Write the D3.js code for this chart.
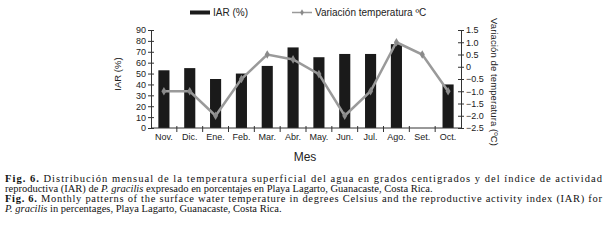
<!DOCTYPE html>
<html>
<head>
<meta charset="utf-8">
<script src="https://cdn.jsdelivr.net/npm/d3@7"></script>
<style>
	body { margin: 0; background: #fff; }
	svg { display: block; }
	.axis path, .axis line { stroke: #333; }
	.axis text { font-family: "Liberation Sans", sans-serif; font-size: 9px; fill: #222; }
</style>
</head>
<body>
<div id="chart"></div>
<script>
// data
const months = ["Nov.", "Dic.", "Ene.", "Feb.", "Mar.", "Abr.", "May.", "Jun.", "Jul.", "Ago.", "Set.", "Oct."]
const iar = [53, 55, 45, 50, 57, 74, 65, 68, 68, 77, null, 40]
const tempVar = [-1.0, -1.0, -2.0, -0.5, 0.5, 0.3, -0.3, -2.0, -1.0, 1.0, 0.5, -1.0]
const iarTicks = [0, 10, 20, 30, 40, 50, 60, 70, 80, 90]
const tempTicks = [1.5, 1.0, 0.5, 0, -0.5, -1.0, -1.5, -2.0, -2.5]

const rows = months.map((m, i) => ({ month: m, iar: iar[i], temp: tempVar[i] }))

const svgWidth = 613, svgHeight = 243
const plotL = 151, plotR = 461, plotT = 30, plotB = 128
const sans = "Liberation Sans, sans-serif"

let svg = d3.select("#chart").append("svg")
	.attr("width", svgWidth)
	.attr("height", svgHeight)

var x = d3.scaleBand()
	.domain(months)
	.range([plotL, plotR])

var y = d3.scaleLinear()
	.domain([0, 90])
	.range([plotB, plotT])

var y2 = d3.scaleLinear()
	.domain([-2.5, 1.5])
	.range([plotB, plotT])

// bars
const barW = x.bandwidth() * 0.43
svg.selectAll("rect.bar")
	.data(rows.filter(d => d.iar != null))
	.enter()
	.append("rect")
	.attr("class", "bar")
	.attr("fill", "#1a1a1a")
	.attr("x", d => x(d.month) + (x.bandwidth() - barW) / 2)
	.attr("y", d => y(d.iar))
	.attr("width", barW)
	.attr("height", d => plotB - y(d.iar))

// temperature line
svg.append("path")
	.datum(rows)
	.attr("fill", "none")
	.attr("stroke", "#9a9a9a")
	.attr("stroke-width", 2.5)
	.attr("d", d3.line()
		.x(d => x(d.month) + x.bandwidth() / 2)
		.y(d => y2(d.temp)))

svg.selectAll("path.mark")
	.data(rows)
	.enter()
	.append("path")
	.attr("class", "mark")
	.attr("fill", "#8a8a8a")
	.attr("d", d3.symbol(d3.symbolDiamond, 22))
	.attr("transform", d => "translate(" + (x(d.month) + x.bandwidth() / 2) + "," + y2(d.temp) + ")")

// axes
var yAxisCall = d3.axisLeft(y).tickValues(iarTicks).tickSizeOuter(0).tickSizeInner(3).tickPadding(2)
let gy = svg.append("g")
	.attr("class", "axis")
	.attr("transform", "translate(" + plotL + ",0)")
	.call(yAxisCall)
gy.selectAll(".tick line").attr("x1", 3)

var y2AxisCall = d3.axisRight(y2).tickValues(tempTicks)
	.tickFormat(d => d === 0 ? "0" : d3.format(".1f")(d))
	.tickSizeOuter(0).tickSizeInner(3).tickPadding(2)
let gy2 = svg.append("g")
	.attr("class", "axis")
	.attr("transform", "translate(" + plotR + ",0)")
	.call(y2AxisCall)
gy2.selectAll(".tick line").attr("x1", -3)

var xAxisCall = d3.axisBottom(x).tickSize(0).tickPadding(6)
let gx = svg.append("g")
	.attr("class", "axis")
	.attr("transform", "translate(0," + plotB + ")")
	.call(xAxisCall)
gx.select(".domain").attr("d", "M" + plotL + ",0H" + plotR)
// boundary ticks between months
gx.selectAll("line.sep")
	.data(months.slice(1))
	.enter()
	.append("line")
	.attr("class", "sep")
	.attr("x1", d => x(d)).attr("x2", d => x(d))
	.attr("y1", -2).attr("y2", 4)

// axis titles
svg.append("text")
	.attr("transform", "translate(121,74) rotate(-90)")
	.attr("text-anchor", "middle")
	.attr("font-family", sans)
	.attr("font-size", "9.5px")
	.attr("fill", "#222")
	.text("IAR (%)")

svg.append("text")
	.attr("transform", "translate(491,82) rotate(90)")
	.attr("text-anchor", "middle")
	.attr("font-family", sans)
	.attr("font-size", "9.5px")
	.attr("fill", "#222")
	.attr("textLength", 128)
	.attr("lengthAdjust", "spacing")
	.text("Variación de temperatura (ºC)")

svg.append("text")
	.attr("x", 305)
	.attr("y", 161)
	.attr("text-anchor", "middle")
	.attr("font-family", sans)
	.attr("font-size", "12px")
	.attr("fill", "#222")
	.text("Mes")

// legend
let legend = svg.append("g").attr("font-family", sans).attr("font-size", "10px").attr("fill", "#222")
legend.append("rect").attr("x", 190).attr("y", 10.5).attr("width", 20).attr("height", 4).attr("fill", "#1a1a1a")
legend.append("text").attr("x", 213).attr("y", 16).text("IAR (%)")
legend.append("line").attr("x1", 292).attr("x2", 312).attr("y1", 12.5).attr("y2", 12.5)
	.attr("stroke", "#9a9a9a").attr("stroke-width", 1.5)
legend.append("path").attr("d", d3.symbol(d3.symbolDiamond, 12)).attr("fill", "#8a8a8a")
	.attr("transform", "translate(302,12.5)")
legend.append("text").attr("x", 315).attr("y", 16).text("Variación temperatura ºC")

// caption
let cap = svg.append("g").attr("font-family", "Liberation Serif, serif").attr("font-size", "10.5px").attr("fill", "#111")

let l1 = cap.append("text").attr("x", 5).attr("y", 182).attr("textLength", 597).attr("lengthAdjust", "spacing")
l1.append("tspan").attr("font-weight", "bold").text("Fig. 6.")
l1.append("tspan").text(" Distribución mensual de la temperatura superficial del agua en grados centigrados y del índice de actividad")

let l2 = cap.append("text").attr("x", 5).attr("y", 191.5)
l2.append("tspan").text("reproductiva (IAR) de ")
l2.append("tspan").attr("font-style", "italic").text("P. gracilis")
l2.append("tspan").text(" expresado en porcentajes en Playa Lagarto, Guanacaste, Costa Rica.")

let l3 = cap.append("text").attr("x", 5).attr("y", 202).attr("textLength", 597).attr("lengthAdjust", "spacing")
l3.append("tspan").attr("font-weight", "bold").text("Fig. 6.")
l3.append("tspan").text(" Monthly patterns of the surface water temperature in degrees Celsius and the reproductive activity index (IAR) for")

let l4 = cap.append("text").attr("x", 5).attr("y", 211.5)
l4.append("tspan").attr("font-style", "italic").text("P. gracilis")
l4.append("tspan").text(" in percentages, Playa Lagarto, Guanacaste, Costa Rica.")
</script>
</body>
</html>
